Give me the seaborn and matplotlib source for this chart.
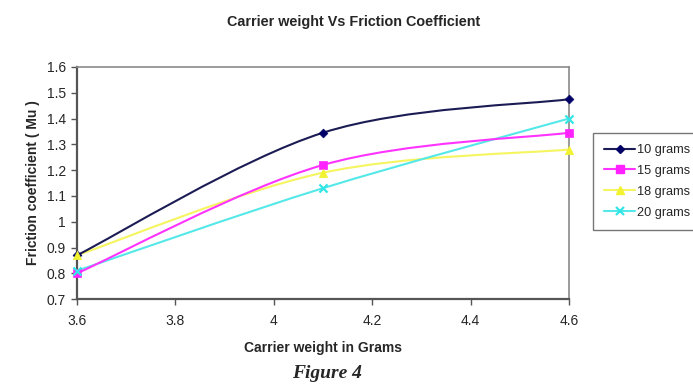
import numpy as np
import pandas as pd
import matplotlib
matplotlib.use("Agg")
import matplotlib.pyplot as plt
from matplotlib.path import Path
from matplotlib.patches import PathPatch
from matplotlib.lines import Line2D
import seaborn as sns

# Carrier weight (grams) on the x axis
carrier_weight = [3.6, 4.1, 4.6]
series_names = ["10 grams", "15 grams", "18 grams", "20 grams"]
mu_10 = [0.87, 1.345, 1.475]
mu_15 = [0.80, 1.22, 1.345]
mu_18 = [0.87, 1.19, 1.28]
mu_20 = [0.81, 1.13, 1.40]

x_ticks = [3.6, 3.8, 4.0, 4.2, 4.4, 4.6]
x_tick_labels = ["3.6", "3.8", "4", "4.2", "4.4", "4.6"]
y_ticks = [0.7, 0.8, 0.9, 1.0, 1.1, 1.2, 1.3, 1.4, 1.5, 1.6]
y_tick_labels = ["0.7", "0.8", "0.9", "1", "1.1", "1.2", "1.3", "1.4", "1.5", "1.6"]

colors = {"10 grams": "#000066", "15 grams": "#ff22ff",
          "18 grams": "#f2f230", "20 grams": "#33e6e6"}
line_colors = {"10 grams": "#1c1c55", "15 grams": "#ff33ff",
               "18 grams": "#f5f560", "20 grams": "#55e8e8"}
markers = {"10 grams": "D", "15 grams": "s", "18 grams": "^", "20 grams": "x"}
marker_sizes = {"10 grams": 20, "15 grams": 36, "18 grams": 36, "20 grams": 34}

values = [mu_10, mu_15, mu_18, mu_20]
df = pd.DataFrame({
    "weight": carrier_weight * len(series_names),
    "mu": sum(values, []),
    "series": [n for n in series_names for _ in carrier_weight],
})

sns.set_style("white")
plt.rcParams["font.family"] = ["Liberation Sans", "DejaVu Sans"]

fig = plt.figure(figsize=(6.93, 3.87), dpi=100)
ax = fig.add_axes([0.111, 0.227, 0.710, 0.600])


def smooth_path(xs, ys):
    """Cubic Bezier path through the points (Catmull-Rom style smoothing)."""
    pts = np.column_stack([xs, ys]).astype(float)
    n = len(pts)
    verts = [pts[0]]
    codes = [Path.MOVETO]
    for i in range(n - 1):
        p_prev = pts[i - 1] if i > 0 else pts[i]
        p_next2 = pts[i + 2] if i + 2 < n else pts[i + 1]
        c1 = pts[i] + (pts[i + 1] - p_prev) / 6.0
        c2 = pts[i + 1] - (p_next2 - pts[i]) / 6.0
        verts += [c1, c2, pts[i + 1]]
        codes += [Path.CURVE4] * 3
    return Path(verts, codes)


# Draw the fastest-rising series last so it sits on top
for name in ["18 grams", "20 grams", "15 grams", "10 grams"]:
    sub = df[df["series"] == name]
    patch = PathPatch(smooth_path(sub["weight"].values, sub["mu"].values),
                      facecolor="none", edgecolor=line_colors[name], lw=1.5,
                      zorder=2)
    ax.add_patch(patch)

for name in series_names:
    sub = df[df["series"] == name]
    kw = dict(color=colors[name], s=marker_sizes[name], marker=markers[name],
              zorder=3, legend=False, ax=ax, clip_on=False)
    if markers[name] == "x":
        sns.scatterplot(data=sub, x="weight", y="mu", linewidth=1.6, **kw)
    else:
        sns.scatterplot(data=sub, x="weight", y="mu", edgecolor=colors[name],
                        linewidth=0.5, **kw)

ax.set_xlim(3.6, 4.6)
ax.set_ylim(0.7, 1.6)
ax.set_xticks(x_ticks)
ax.set_xticklabels(x_tick_labels)
ax.set_yticks(y_ticks)
ax.set_yticklabels(y_tick_labels)
ax.tick_params(axis="both", labelsize=10, length=4, width=1, color="#555555",
               direction="out", pad=4, bottom=True, left=True)
ax.tick_params(axis="x", pad=7)

for side in ["top", "right"]:
    ax.spines[side].set_color("#8a8a8a")
    ax.spines[side].set_linewidth(1.2)
for side in ["left", "bottom"]:
    ax.spines[side].set_color("#555555")
    ax.spines[side].set_linewidth(1.6)

ax.set_xlabel("Carrier weight in Grams", fontsize=10, fontweight="bold",
              labelpad=9)
ax.set_ylabel("Friction coefficient ( Mu )", fontsize=10, fontweight="bold",
              labelpad=5)
fig.text(0.511, 0.943, "Carrier weight Vs Friction Coefficient", ha="center",
         va="center", fontsize=10.4, fontweight="bold")
fig.text(0.472, 0.036, "Figure 4", ha="center", va="center", fontsize=14,
         fontweight="bold", fontstyle="italic", family="Liberation Serif")

handles = []
for name in series_names:
    if markers[name] == "x":
        h = Line2D([], [], color=line_colors[name], lw=1.5, marker="x",
                   markersize=6, markeredgewidth=1.6, markeredgecolor=colors[name])
    else:
        h = Line2D([], [], color=line_colors[name], lw=1.5, marker=markers[name],
                   markersize=6 if markers[name] != "D" else 4.5,
                   markerfacecolor=colors[name], markeredgecolor=colors[name])
    handles.append(h)

leg = fig.legend(handles, series_names, loc="upper left",
                 bbox_to_anchor=(0.856, 0.656), borderaxespad=0, frameon=True,
                 fontsize=9.2, handlelength=2.45, handletextpad=0.15,
                 labelspacing=0.7, borderpad=0.85, fancybox=False)
leg.get_frame().set_edgecolor("#555555")
leg.get_frame().set_linewidth(1.0)

fig.savefig("out.png", dpi=100, facecolor="white")
